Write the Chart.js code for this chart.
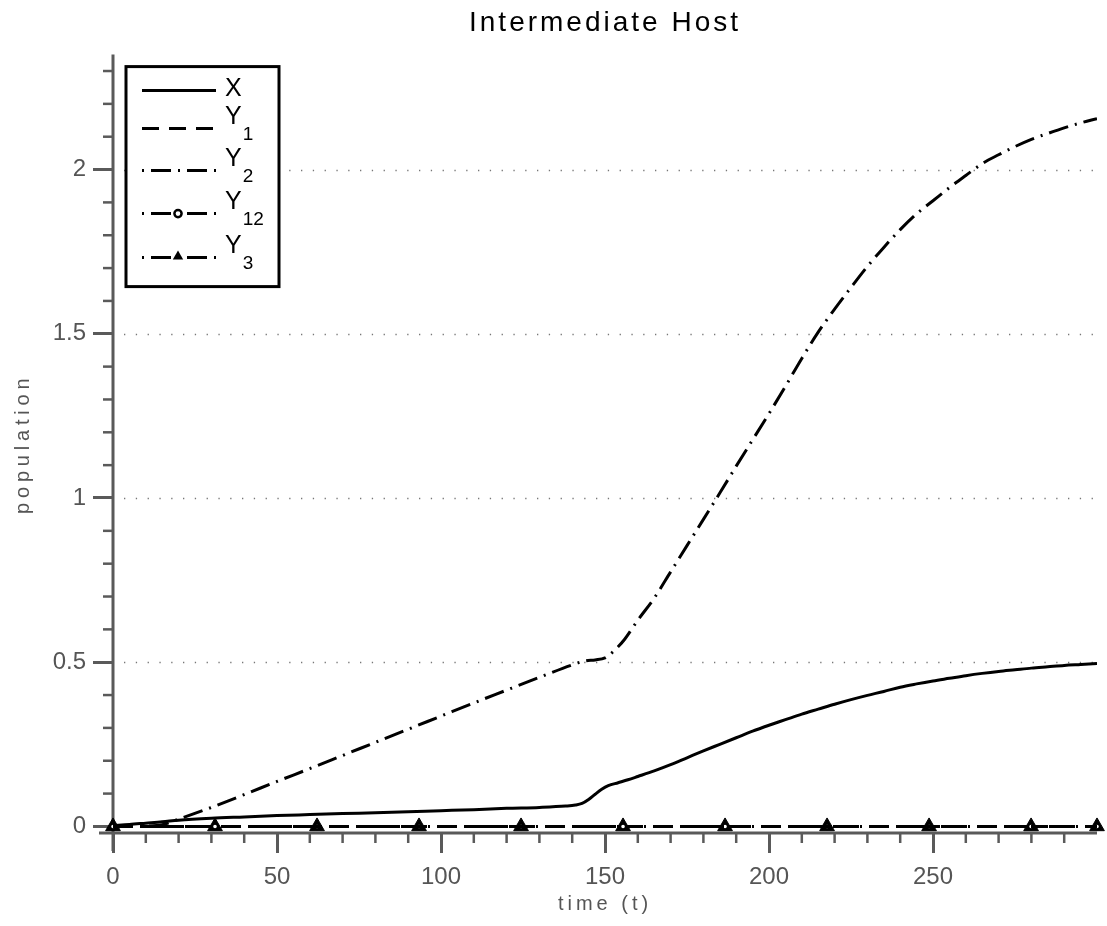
<!DOCTYPE html>
<html><head><meta charset="utf-8">
<script src="https://cdn.jsdelivr.net/npm/chart.js@4.4.0/dist/chart.umd.min.js"></script>
<style>html,body{margin:0;padding:0;background:#fff;}#wrap{width:1107px;height:926px;}</style>
</head><body><div id="wrap"><canvas id="c" width="1107" height="926"></canvas></div>
<script>
// ---- data ----
const tX = [0, 5, 10, 15, 20, 30, 40, 50, 60, 70, 80, 90, 100, 110, 120, 130, 138, 141, 143, 145, 147, 149, 151, 154, 157, 160, 165, 170, 175, 180, 185, 190, 195, 200, 205, 210, 215, 220, 225, 230, 235, 240, 245, 250, 255, 260, 265, 270, 275, 280, 285, 290, 295, 300];
const xVals = [0.003, 0.006, 0.010, 0.014, 0.019, 0.025, 0.029, 0.033, 0.036, 0.039, 0.042, 0.045, 0.048, 0.051, 0.055, 0.058, 0.062, 0.065, 0.070, 0.082, 0.098, 0.113, 0.124, 0.133, 0.142, 0.152, 0.169, 0.188, 0.209, 0.230, 0.250, 0.270, 0.290, 0.308, 0.325, 0.342, 0.357, 0.372, 0.386, 0.399, 0.411, 0.424, 0.434, 0.443, 0.451, 0.459, 0.466, 0.472, 0.477, 0.482, 0.486, 0.490, 0.493, 0.496];
const tY2 = [0, 10, 15, 20, 30, 40, 50, 60, 70, 80, 90, 100, 110, 120, 130, 140, 144, 147, 150, 153, 156, 160, 165, 170, 175, 180, 185, 190, 195, 200, 205, 210, 215, 220, 225, 230, 235, 240, 245, 250, 255, 260, 265, 270, 275, 280, 285, 290, 295, 300];
const y2Vals = [0, 0.001, 0.005, 0.022, 0.058, 0.097, 0.137, 0.176, 0.216, 0.256, 0.296, 0.336, 0.376, 0.415, 0.454, 0.492, 0.504, 0.507, 0.513, 0.537, 0.570, 0.628, 0.695, 0.775, 0.855, 0.935, 1.015, 1.097, 1.177, 1.257, 1.340, 1.425, 1.505, 1.575, 1.641, 1.705, 1.763, 1.817, 1.865, 1.905, 1.945, 1.982, 2.018, 2.045, 2.070, 2.092, 2.110, 2.127, 2.142, 2.155];
const tMarks = [0, 31.1, 62.2, 93.3, 124.4, 155.5, 186.6, 217.7, 248.8, 279.9, 300];
const y1Vals = [0, 0, 0, 0, 0, 0, 0, 0, 0, 0, 0];
const y12Vals = [0, 0, 0, 0, 0, 0, 0, 0, 0, 0, 0];
const y3Vals = [0, 0, 0, 0, 0, 0, 0, 0, 0, 0, 0];
const xTickLabels = [0, 50, 100, 150, 200, 250];
const yTickLabels = [0, 0.5, 1, 1.5, 2];
const seriesNames = ['X', 'Y1', 'Y2', 'Y12', 'Y3'];
const legendParts = [['X', ''], ['Y', '1'], ['Y', '2'], ['Y', '12'], ['Y', '3']];
const titleText = 'Intermediate Host';
const xTitle = 'time (t)';
const yTitle = 'population';

// ---- styles ----
const AXIS = '#5a5a5a';
const DASH = [17, 10];
const DASHDOT = [20, 7, 2, 7];
const SANS = '"Liberation Sans", Arial, sans-serif';
const pts = (ts, vs) => ts.map((t, i) => ({x: t, y: vs[i]}));
const near = (v, arr) => arr.some(a => Math.abs(a - v) < 1e-6);

const datasets = [
  {label: seriesNames[0], data: pts(tX, xVals), borderColor: '#000', borderWidth: 3, pointRadius: 0, cubicInterpolationMode: 'monotone'},
  {label: seriesNames[1], data: pts(tMarks, y1Vals), borderColor: '#000', borderWidth: 3, borderDash: DASH, pointRadius: 0},
  {label: seriesNames[2], data: pts(tY2, y2Vals), borderColor: '#000', borderWidth: 3, borderDash: DASHDOT, pointRadius: 0, cubicInterpolationMode: 'monotone'},
  {label: seriesNames[3], data: pts(tMarks, y12Vals), borderColor: '#000', borderWidth: 3, borderDash: DASHDOT, pointStyle: 'circle', pointRadius: 2.8, pointBorderWidth: 2, pointBackgroundColor: '#fff', pointBorderColor: '#000', clip: false},
  {label: seriesNames[4], data: pts(tMarks, y3Vals), borderColor: '#000', borderWidth: 3, borderDash: DASHDOT, pointStyle: 'triangle', pointRadius: 8.5, pointBorderWidth: 1, pointBackgroundColor: '#000', pointBorderColor: '#000', clip: false}
];

const decor = {
  id: 'decor',
  beforeDraw(chart) {
    const wrap = (obj, fn, sp) => {
      if (!obj || obj['__w' + fn]) return;
      const orig = obj[fn];
      obj[fn] = function (...args) { const c = chart.ctx; c.save(); c.letterSpacing = sp; orig.apply(this, args); c.restore(); };
      obj['__w' + fn] = true;
    };
    wrap(chart.scales.x, 'drawTitle', '4px');
    wrap(chart.scales.y, 'drawTitle', '4.8px');
    wrap(chart.titleBlock, 'draw', '3px');
  },
  beforeDatasetsDraw(chart) {
    const {ctx, chartArea: a, scales: {x, y}} = chart;
    ctx.save();
    ctx.strokeStyle = '#777'; ctx.lineWidth = 1.3; ctx.setLineDash([1.3, 10.5]);
    yTickLabels.forEach(v => {
      if (v === 0) return;
      const py = Math.round(y.getPixelForValue(v)) + 0.5;
      ctx.beginPath(); ctx.moveTo(a.left + 11, py); ctx.lineTo(a.right, py); ctx.stroke();
    });
    ctx.setLineDash([]);
    ctx.strokeStyle = AXIS; ctx.lineWidth = 3;
    ctx.beginPath(); ctx.moveTo(a.left, a.top); ctx.lineTo(a.left, a.bottom + 18); ctx.stroke();
    ctx.beginPath(); ctx.moveTo(a.left - 14, a.bottom); ctx.lineTo(a.right, a.bottom); ctx.stroke();
    ctx.lineWidth = 2.5;
    y.ticks.forEach(t => {
      if (near(t.value, yTickLabels)) return;
      const py = y.getPixelForValue(t.value);
      ctx.beginPath(); ctx.moveTo(a.left - 10, py); ctx.lineTo(a.left, py); ctx.stroke();
    });
    x.ticks.forEach(t => {
      if (near(t.value, xTickLabels) || t.value >= 300) return;
      const px = x.getPixelForValue(t.value);
      ctx.beginPath(); ctx.moveTo(px, a.bottom); ctx.lineTo(px, a.bottom + 10); ctx.stroke();
    });
    ctx.restore();
  },
  afterDatasetsDraw(chart) {
    const {ctx, chartArea: a} = chart;
    const bx = a.left + 13, by = a.top + 12, bw = 153, bh = 220;
    ctx.save();
    ctx.fillStyle = '#fff'; ctx.fillRect(bx, by, bw, bh);
    ctx.strokeStyle = '#000'; ctx.lineWidth = 3; ctx.setLineDash([]);
    ctx.strokeRect(bx, by, bw, bh);
    const rows = [24, 62, 104, 147, 191];
    const x0 = bx + 16, x1 = bx + 90, mx = bx + 52;
    datasets.forEach((ds, i) => {
      const ly = by + rows[i];
      ctx.save();
      ctx.strokeStyle = '#000'; ctx.lineWidth = 3;
      const dash = ds.borderDash || [];
      ctx.setLineDash(dash);
      ctx.lineDashOffset = dash.length === 4 ? 27 : 0;
      ctx.beginPath(); ctx.moveTo(x0, ly); ctx.lineTo(x1, ly); ctx.stroke();
      ctx.setLineDash([]);
      if (ds.pointStyle === 'circle') {
        ctx.fillStyle = '#fff'; ctx.lineWidth = 2.5;
        ctx.fillRect(mx - 6, ly - 3, 12, 6);
        ctx.beginPath(); ctx.arc(mx, ly, 3.6, 0, Math.PI * 2); ctx.fill(); ctx.stroke();
      } else if (ds.pointStyle === 'triangle') {
        ctx.fillStyle = '#fff'; ctx.fillRect(mx - 6, ly - 3, 12, 6);
        ctx.fillStyle = '#000'; const r = 6;
        ctx.beginPath();
        for (let k = 0; k < 3; k++) { const ang = k * 2 * Math.PI / 3; const px = mx + Math.sin(ang) * r, py = ly - 1 - Math.cos(ang) * r; k ? ctx.lineTo(px, py) : ctx.moveTo(px, py); }
        ctx.closePath(); ctx.fill();
      }
      ctx.fillStyle = '#000'; ctx.textBaseline = 'middle'; ctx.textAlign = 'left';
      const [base, sub] = legendParts[i];
      const tx = bx + 99;
      ctx.font = '25px ' + SANS;
      if (!sub) { ctx.fillText(base, tx, ly - 1); }
      else {
        ctx.fillText(base, tx, ly - 11);
        const w = ctx.measureText(base).width;
        ctx.font = '19px ' + SANS;
        ctx.fillText(sub, tx + w + 1, ly + 6);
      }
      ctx.restore();
    });
    ctx.restore();
  }
};

const chart = new Chart(document.getElementById('c'), {
  type: 'line',
  data: {datasets},
  plugins: [decor],
  options: {
    responsive: false, animation: false, devicePixelRatio: 1,
    layout: {padding: {left: 0, right: 5, top: 0, bottom: 0}},
    plugins: {
      legend: {display: false}, tooltip: {enabled: false},
      title: {display: true, text: titleText, fullSize: false, color: '#000', font: {family: SANS, size: 28, weight: 'normal', lineHeight: 1.2}, padding: {top: 6, bottom: 15}}
    },
    scales: {
      x: {
        type: 'linear', min: 0, max: 300,
        afterBuildTicks(s) { s.ticks = Array.from({length: 31}, (_, i) => ({value: i * 10})); },
        afterFit(s) { s.height = 93; },
        border: {display: false},
        grid: {drawOnChartArea: false, drawTicks: true, tickLength: 20, tickWidth: 3,
          tickColor: c => (c.tick && near(c.tick.value, xTickLabels)) ? AXIS : 'rgba(0,0,0,0)'},
        ticks: {autoSkip: false, maxRotation: 0, padding: 10, color: '#555', font: {family: SANS, size: 24},
          callback: v => near(v, xTickLabels) ? String(Math.round(v)) : ''},
        title: {display: true, text: xTitle, color: '#555', font: {family: SANS, size: 20, lineHeight: 1.2}, padding: {top: 0, bottom: 10}}
      },
      y: {
        type: 'linear', min: -0.02, max: 2.35,
        afterBuildTicks(s) { s.ticks = Array.from({length: 24}, (_, i) => ({value: i / 10})); },
        afterFit(s) { s.width = 113; },
        border: {display: false},
        grid: {drawOnChartArea: false, drawTicks: true, tickLength: 20, tickWidth: 3,
          tickColor: c => (c.tick && near(c.tick.value, yTickLabels)) ? AXIS : 'rgba(0,0,0,0)'},
        ticks: {autoSkip: false, padding: 7, color: '#555', font: {family: SANS, size: 24},
          callback: v => near(v, yTickLabels) ? String(Math.round(v * 10) / 10) : ''},
        title: {display: true, text: yTitle, color: '#555', font: {family: SANS, size: 20, lineHeight: 1.2}, padding: {top: 11, bottom: 0}}
      }
    }
  }
});
</script></body></html>
